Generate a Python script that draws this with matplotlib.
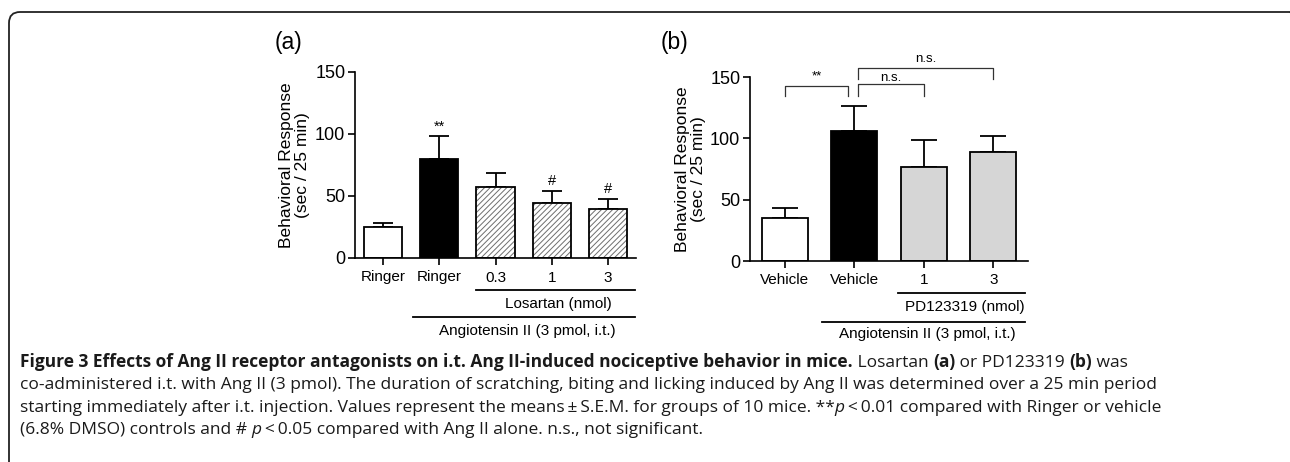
"""Ang II receptor antagonist figure (Figure 3) with caption."""

import matplotlib as mpl
import matplotlib.pyplot as plt
from matplotlib.patches import FancyBboxPatch
from matplotlib.transforms import blended_transform_factory

# panel (a): losartan
A_LABELS = ["Ringer", "Ringer", "0.3", "1", "3"]
A_MEANS = [25, 80, 57, 44, 39.5]
A_SEM = [3, 18, 11.5, 10, 8]
A_MARKS = ["", "**", "", "#", "#"]

# panel (b): PD123319
B_LABELS = ["Vehicle", "Vehicle", "1", "3"]
B_MEANS = [35, 106, 77, 89]
B_SEM = [8, 20, 22, 13]

CAPTION = [
    [("Figure 3 Effects of Ang II receptor antagonists on i.t. Ang II-induced nociceptive behavior in mice.", "bold", "normal"),
     (" Losartan ", "normal", "normal"), ("(a)", "bold", "normal"), (" or PD123319 ", "normal", "normal"),
     ("(b)", "bold", "normal"), (" was", "normal", "normal")],
    [("co-administered i.t. with Ang II (3 pmol). The duration of scratching, biting and licking induced by Ang II "
      "was determined over a 25 min period", "normal", "normal")],
    [("starting immediately after i.t. injection. Values represent the means\u2009\u00b1\u2009S.E.M. for groups of 10 mice. **",
      "normal", "normal"), ("p", "normal", "italic"), ("\u2009<\u20090.01 compared with Ringer or vehicle", "normal", "normal")],
    [("(6.8% DMSO) controls and # ", "normal", "normal"), ("p", "normal", "italic"),
     ("\u2009<\u20090.05 compared with Ang II alone. n.s., not significant.", "normal", "normal")],
]

W, H = 1290, 462


def px_axes(fig, left, top, right, bottom):
    return fig.add_axes([left / W, 1 - bottom / H, (right - left) / W, (bottom - top) / H])


def style_axes(ax, labels):
    for side in ("top", "right"):
        ax.spines[side].set_visible(False)
    for side in ("left", "bottom"):
        ax.spines[side].set_linewidth(1.2)
    ax.set_ylim(0, 150)
    ax.set_yticks([0, 50, 100, 150])
    ax.set_xlim(-0.5, len(labels) - 0.5)
    ax.set_xticks(range(len(labels)), labels)
    ax.tick_params(axis="y", labelsize=13, width=1.2, length=5, pad=2)
    ax.tick_params(axis="x", labelsize=11, width=1.2, length=5, pad=4)
    ax.text(-0.215, 0.5, "Behavioral Response\n(sec / 25 min)", transform=ax.transAxes, rotation=90,
            ha="center", va="center", fontsize=12.5, linespacing=1.1)


def group_line(ax, x0, x1, y_line, text, x_text, y_text):
    tr = blended_transform_factory(ax.transData, ax.transAxes)
    ax.plot([x0, x1], [y_line, y_line], color="black", lw=1.3, transform=tr, clip_on=False)
    ax.text(x_text, y_text, text, transform=tr, ha="center", va="center", fontsize=11)


def bracket(ax, x0, x1, y_top, y_end0, y_end1, text, y_text):
    ax.plot([x0, x0, x1, x1], [y_end0, y_top, y_top, y_end1], color="#333333", lw=0.9, clip_on=False)
    ax.text((x0 + x1) / 2, y_text, text, ha="center", va="center", fontsize=9.5, clip_on=False)


def draw_caption(fig, x_px, baseline_px, lines, spacing):
    fig.canvas.draw()
    renderer = fig.canvas.get_renderer()
    for i, segments in enumerate(lines):
        x = x_px
        y = baseline_px + i * spacing
        for text, weight, style in segments:
            t = fig.text(x / W, 1 - y / H, text, fontsize=12.5, family="Open Sans", fontweight=weight,
                         fontstyle=style, ha="left", va="baseline", color="#1a1a1a")
            x += t.get_window_extent(renderer).width


def main():
    mpl.rcParams.update({
        "font.family": ["Liberation Sans", "DejaVu Sans"],
        "hatch.linewidth": 0.7,
        "xtick.color": "black",
        "ytick.color": "black",
    })
    fig = plt.figure(figsize=(W / 100, H / 100), dpi=100)

    frame = FancyBboxPatch((0.09, -0.5), 12.92, 5.0, boxstyle="round,pad=0,rounding_size=0.11",
                           transform=fig.dpi_scale_trans, fill=False, edgecolor="#222222", lw=1.3)
    fig.patches.append(frame)

    # (a) losartan
    ax = px_axes(fig, 355, 72, 636, 258)
    style_axes(ax, A_LABELS)
    x = range(len(A_MEANS))
    faces = ["white", "black", "white", "white", "white"]
    hatch_bars = ax.bar(x, A_MEANS, width=0.68, color=faces, edgecolor="none", zorder=2)
    for i in (2, 3, 4):
        hatch_bars[i].set_hatch("//////")
        hatch_bars[i].set_edgecolor("#6e6e6e")
        hatch_bars[i].set_linewidth(0)
    ax.bar(x, A_MEANS, width=0.68, fill=False, edgecolor="black", lw=1.3, zorder=3)
    ax.errorbar(x, A_MEANS, yerr=[[0] * len(A_SEM), A_SEM], fmt="none", ecolor="black", elinewidth=1.3,
                capsize=7.5, capthick=1.3, zorder=1)
    for xi, mean, sem, mark in zip(x, A_MEANS, A_SEM, A_MARKS):
        if mark:
            ax.text(xi, mean + sem + 8, mark, ha="center", va="center", fontsize=10.5)
    group_line(ax, 1.66, 4.48, -0.172, "Losartan (nmol)", 3.12, -0.247)
    group_line(ax, 0.53, 4.48, -0.317, "Angiotensin II (3 pmol, i.t.)", 2.57, -0.392)
    fig.text(289 / W, 1 - 42 / H, "(a)", fontsize=16.5, ha="center", va="center")

    # (b) PD123319
    ax = px_axes(fig, 750, 77, 1028, 261)
    style_axes(ax, B_LABELS)
    x = range(len(B_MEANS))
    ax.bar(x, B_MEANS, width=0.66, color=["white", "black", "#d6d6d6", "#d6d6d6"], edgecolor="black",
           lw=1.3, zorder=2)
    ax.errorbar(x, B_MEANS, yerr=[[0] * len(B_SEM), B_SEM], fmt="none", ecolor="black", elinewidth=1.3,
                capsize=9.5, capthick=1.3, zorder=1)
    bracket(ax, 0.0, 0.91, 142.6, 134.5, 134.5, "**", 150.5)
    bracket(ax, 1.05, 2.0, 144, 134.5, 134.5, "n.s.", 149.5)
    bracket(ax, 1.05, 3.0, 157, 148, 148, "n.s.", 164.5)
    group_line(ax, 1.63, 3.46, -0.174, "PD123319 (nmol)", 2.59, -0.25)
    group_line(ax, 0.54, 3.46, -0.332, "Angiotensin II (3 pmol, i.t.)", 2.05, -0.397)
    fig.text(675 / W, 1 - 42 / H, "(b)", fontsize=16.5, ha="center", va="center")

    draw_caption(fig, 20, 367, CAPTION, 22.3)

    fig.savefig("out.png", dpi=100, facecolor="white")


if __name__ == "__main__":
    main()
